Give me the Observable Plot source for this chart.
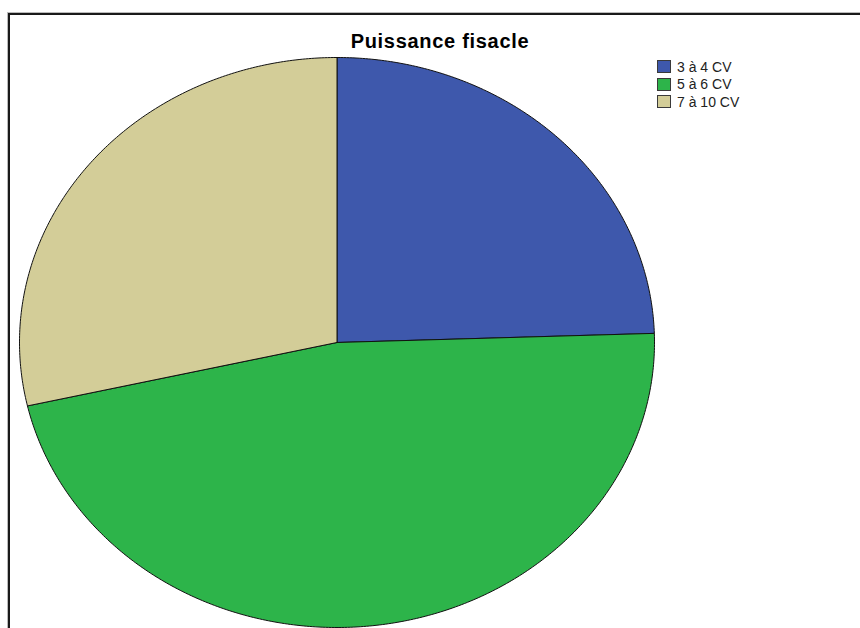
<!DOCTYPE html>
<html>
<head>
<meta charset="utf-8">
<script src="https://cdn.jsdelivr.net/npm/d3@7"></script>
<script src="https://cdn.jsdelivr.net/npm/@observablehq/plot@0.6"></script>
<style>
  html, body { margin: 0; padding: 0; background: #fff; overflow: hidden; }
  #wrap { position: relative; width: 860px; height: 628px; font-family: "Liberation Sans", Arial, sans-serif; }
  #frame { position: absolute; left: 8px; top: 13px; width: 900px; height: 700px; border-left: 2px solid #1a1a1a; border-top: 2px solid #1a1a1a; box-shadow: -1px -1px 0 #bbb; }
  #title { position: absolute; left: 0; width: 880px; top: 29px; text-align: center; font-weight: bold; font-size: 20px; letter-spacing: 0.7px; color: #000; line-height: 24px; }
  #legend { position: absolute; left: 657px; top: 58px; font-size: 14px; color: #222; }
  .item { display: flex; align-items: center; height: 17.5px; }
  .sw { width: 12px; height: 11px; border: 1px solid #3a3a3a; margin-right: 6px; }
  #chart { position: absolute; left: 0; top: 0; }
</style>
</head>
<body>
<div id="wrap">
  <div id="frame"></div>
  <div id="chart"></div>
  <div id="title"></div>
  <div id="legend"></div>
</div>
<script>
const title = "Puissance fisacle";
const categories = ["3 à 4 CV", "5 à 6 CV", "7 à 10 CV"];
const counts = [12, 23, 14];
const colors = ["#3E58AC", "#2DB44A", "#D3CD98"];

const arcs = d3.pie().sort(null).startAngle(0).endAngle(2 * Math.PI)(counts);
const pts = [];
arcs.forEach((a, i) => {
  const cat = categories[i];
  pts.push({cat, x: 0, y: 0});
  const n = Math.max(2, Math.ceil((a.endAngle - a.startAngle) / 0.01));
  for (let k = 0; k <= n; k++) {
    const t = a.startAngle + (a.endAngle - a.startAngle) * k / n;
    pts.push({cat, x: Math.sin(t), y: Math.cos(t)});
  }
  pts.push({cat, x: 0, y: 0});
});

const chart = Plot.plot({
  width: 860,
  height: 628,
  margin: 0,
  x: {domain: [-1, 1], range: [19, 654], axis: null},
  y: {domain: [-1, 1], range: [627, 57], axis: null},
  color: {domain: categories, range: colors},
  marks: [
    Plot.line(pts, {x: "x", y: "y", z: "cat", fill: "cat", stroke: "#111", strokeWidth: 1, curve: "linear"})
  ]
});
chart.style.background = "transparent";
document.getElementById("chart").appendChild(chart);
document.getElementById("title").textContent = title;
const lg = document.getElementById("legend");
categories.forEach((c, i) => {
  const it = document.createElement("div");
  it.className = "item";
  const sw = document.createElement("div");
  sw.className = "sw";
  sw.style.background = colors[i];
  const tx = document.createElement("span");
  tx.textContent = c;
  it.appendChild(sw); it.appendChild(tx);
  lg.appendChild(it);
});
</script>
</body>
</html>
